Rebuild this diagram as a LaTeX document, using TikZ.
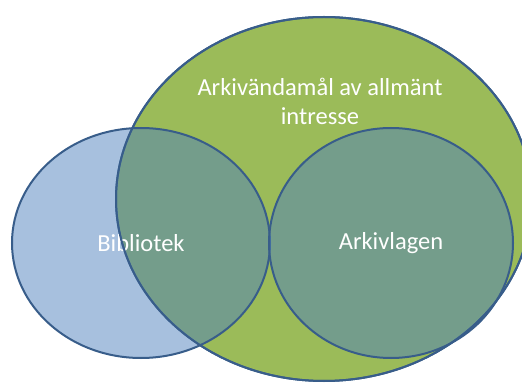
\documentclass[tikz,border=0pt]{standalone}
\usepackage{fontspec}
\setmainfont{Carlito}
\usepackage{xcolor}
\usepackage{tikz}
\usetikzlibrary{shapes.geometric}
\definecolor{olivex}{HTML}{9BBB59}
\definecolor{bluex}{HTML}{4F81BD}
\definecolor{edgex}{HTML}{385D8A}
\tikzset{
  setbig/.style={ellipse,draw=edgex,line width=2pt,fill=olivex,inner sep=0pt},
  setsmall/.style={ellipse,draw=edgex,line width=2pt,fill=bluex,fill opacity=0.5,
    text opacity=1,draw opacity=1,inner sep=0pt,text=white,font=\fontsize{24.5}{29}\selectfont},
  lbl/.style={text=white,align=center,font=\fontsize{24.5}{29}\selectfont}
}
\begin{document}
\begin{tikzpicture}[x=1pt,y=1pt]
\useasboundingbox (0,0) rectangle (522,383);
\node[setbig,minimum width=416pt,minimum height=364pt] (arkiv) at (324,184) {};
\node[setsmall,minimum width=258pt,minimum height=230pt] (bib) at (141,140) {Bibliotek};
\node[setsmall,minimum width=244pt,minimum height=230pt] (lag) at (391,140) {Arkivlagen};
% outline of the big set again, on top of the blue fill
\draw[edgex,line width=2pt] (arkiv.center) ellipse [x radius=208,y radius=182];
\node[lbl] (title) at (320,282) {Arkivändamål av allmänt\\intresse};
\end{tikzpicture}
\end{document}
